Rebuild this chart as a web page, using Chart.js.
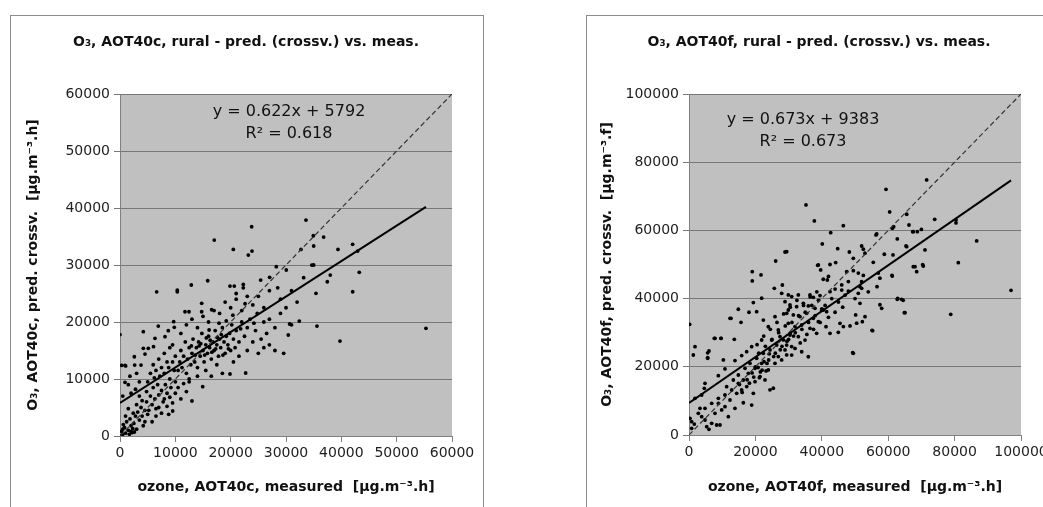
<!DOCTYPE html>
<html lang="en">
<head>
<meta charset="UTF-8">
<title>O3 AOT40 rural - pred. vs. meas.</title>
<script src="https://cdn.jsdelivr.net/npm/chart.js"></script>
<style>
  html, body { margin: 0; padding: 0; background: #fff; width: 1043px; height: 507px; overflow: hidden; }
  .frame { position: absolute; box-sizing: border-box; border: 1px solid #8c8c8c; background: #fff; }
  #frameA { left: 10px; top: 15px; width: 474px; height: 520px; }
  #frameB { left: 586px; top: 15px; width: 520px; height: 520px; }
  canvas { position: absolute; }
  #chartA { left: 10px; top: 15px; }
  #chartB { left: 586px; top: 15px; }
</style>
</head>
<body>
<div class="frame" id="frameA"></div>
<div class="frame" id="frameB"></div>
<canvas id="chartA" width="473" height="492"></canvas>
<canvas id="chartB" width="500" height="492"></canvas>

<script>
// tick labels of both axes
const ticksA = [0, 10000, 20000, 30000, 40000, 50000, 60000];
const ticksB = [0, 20000, 40000, 60000, 80000, 100000];

// regression: slope, intercept, R2
const fitA = [0.622, 5792, 0.618];
const fitB = [0.673, 9383, 0.673];

// measured (x) vs predicted (y), AOT40c
const pointsA = [
  [0,0],[300,800],[500,300],[800,1500],[1000,500],[1200,2500],[1500,1000],[1800,3000],[2000,1800],[2200,600],
  [2500,2200],[2800,3500],[3000,1200],[3200,4200],[3500,2800],[3800,5000],[4000,3500],[4200,1800],[4500,4500],[4800,6000],
  [5000,3800],[1000,3500],[1500,4800],[600,2000],[2400,4000],[3000,5500],[3500,7000],[4000,6200],[4500,2500],[500,1200],
  [1700,300],[2000,800],[2300,1300],[2600,700],
  [0,17800],[300,12400],[900,12400],[1024,12300],[2590,13900],[2650,12450],[3795,12450],[4216,15380],[4216,18300],[4518,14380],
  [5114,15380],[6060,15670],[6920,19290],[8730,18470],[9812,19060],[9700,20050],[6632,25300],[10354,25300],[10354,25600],[12884,26490],
  [15847,27240],[14763,23280],[14763,21800],[11745,21800],[12468,21800],[16570,22150],[6325,17140],[8130,17420],[904,9420],[500,7000],
  [1500,9000],[2000,7500],[2800,8200],[3500,9500],[3000,11000],[1800,10500],
  [5200,4500],[5500,7000],[5800,5500],[6000,8500],[6300,6500],[6500,4800],[6800,9000],[7000,7200],[7200,10500],[7500,8000],
  [7800,6000],[8000,11000],[8200,9000],[8500,7500],[8800,12000],[9000,10000],[9200,8500],[9500,13000],[9523,4385],[9800,11500],
  [10000,9500],[5000,9500],[5500,11000],[6000,12500],[6500,11500],[7000,13500],[7500,12000],[8000,14500],[8500,13000],[9000,15500],
  [9500,16000],[10000,14000],[5800,2500],[6500,3500],[7000,5000],[7500,4000],[8000,6500],[8500,5200],[9000,6800],[9500,5800],
  [10000,7500],[10500,8500],[11000,6500],[11500,9200],[12000,7800],[13010,6140],[14944,8650],[12500,10000],[4800,7800],[6200,10200],
  [8800,3800],
  [10500,11500],[10800,13000],[11000,15000],[11200,12000],[11500,14000],[11800,16500],[12000,11000],[12200,13500],[12500,15500],[12800,12500],
  [13000,14500],[13200,17000],[13500,13000],[13800,15500],[14000,12000],[14200,16500],[14500,14000],[14800,18000],[15000,15000],[15200,13000],
  [15500,16000],[15800,14500],[16000,17500],[16200,15500],[16500,13500],[16800,16500],[17000,15000],[17200,18500],[17500,16000],[17800,14000],
  [18000,17000],[18200,15500],[18500,19000],[18800,16500],[19000,14500],[19200,17500],[19500,16000],[19800,18000],[20000,15000],[20200,19500],
  [20500,17000],[20800,15500],[21000,18500],[21500,16500],[22000,20000],[22500,17500],[23000,19000],[11000,18000],[12000,19500],[13000,20500],
  [14000,19000],[15000,21000],[16000,20000],[17000,22000],[18000,21500],[19000,23500],[20000,22500],[21000,24000],[22000,22000],[12500,9500],
  [14000,10500],[15500,11500],[16500,10500],[17500,12500],[18500,11000],[19877,10875],[22714,11050],[20500,13000],[21500,14000],[23000,15000],
  [24000,16500],[25000,14500],[26000,15500],[27000,16000],[28000,15000],[29580,14505],[24500,18500],[25500,17000],[26500,18000],[23500,20500],
  [24800,21500],[25420,27360],[19877,26310],[20654,26310],[22280,26600],[22280,26000],[21000,25000],[23000,24500],[24000,23000],[25000,24500],
  [26000,22500],[27000,25500],[27040,27830],[28245,29700],[30050,29120],[28500,26000],[29000,24000],[30000,22500],[31000,25500],[32000,23500],
  [33190,27770],[34670,29990],[35000,30000],[35417,25030],[37460,27065],[38000,28240],[32707,32740],[35000,33330],[33610,37890],[34935,35130],
  [36800,34900],[39393,32740],[42048,33620],[42950,32450],[43240,28710],[42048,25310],[17040,34380],[23796,36710],[20478,32740],[23189,31750],
  [23856,32450],[55294,18890],[39754,16660],[35598,19290],[32400,20170],[30412,17720],[30652,19650],[28000,19000],[27000,20500],[29000,21500],
  [31000,19500],[26000,20000],
  [14300,15800],[15300,14200],[16300,16800],[17300,15300],[18300,17800],[15600,17200],[16600,14700],[17600,17300],[18600,14200],[19600,15300],
  [13600,14200],[14600,16200],[12900,15800],[16100,18600],[17900,19800],[21800,18800],[20400,21200],[19200,20200],[22600,23200],[24200,19800]
];

// measured (x) vs predicted (y), AOT40f
const pointsB = [
  [71590,74790],[59340,72060],[35240,67460],[60440,65410],[37750,62770],[46480,61390],[42680,59340],[65570,64730],[61640,61100],[74000,63260],
  [80420,63060],[80420,62180],[67380,59630],[68780,59630],[86650,56900],[81120,50540],[97000,42440],[78820,35400],[64860,35870],[49300,24140],
  [58040,37160],[57500,38200],[55120,30700],[62740,39800],[64040,39800],[61140,46840],[56630,43500],[70390,49950],[68080,49360],[68580,47900],
  [71080,54260],[65360,55430],[62740,57490],[58830,53000],[56320,58660],[61445,52800],[40150,56020],[44780,54640],[48290,53670],[52010,55430],
  [53000,53300],[52500,54500],[28920,53670],[26110,51030],[19060,47900],[19060,45170],[21690,46930],[38760,49770],[39660,48420],[42470,50000],
  [44180,50550],[41670,45460],[42000,46500],[200,32460],[1807,25900],[1300,23460],[5620,24100],[5620,22700],[7630,28360],[9640,28360],
  [12650,34220],[14860,36870],[66260,61580],[67560,59640],[70000,60300],[61240,60620],[56530,58950],[29430,53770],[49490,51820],[55510,50650],
  [65570,55230],[67560,49360],[70570,49560],[38950,49860],[40450,45670],[47500,47900],[49500,48200],[51000,47500],[52500,46800],[51500,43500],
  [52000,43000],[57020,47500],[57500,46000],[61240,46630],[42470,42030],[44000,42800],[46000,42500],[48000,42200],[50990,41560],[62860,40090],
  [64500,39500],[65060,35870],[51500,38620],[46290,37500],[50200,35200],[53010,34690],[52210,33220],[50500,32800],[48500,32000],[45480,32750],
  [46500,31800],[55320,30600],[49490,23960],[44970,30110],[40450,36660],
  [29920,41070],[30920,40590],[32930,41070],[36440,41070],[37440,40380],[39450,40880],[30420,38130],[32420,37640],[34440,38620],[35940,37860],
  [37950,37150],[39960,36670],[41460,36180],[29420,35690],[31430,35200],[33430,34710],[35440,35690],[37440,34220],[38950,33240],[29920,32750],
  [31930,31770],[33940,32260],[36440,31280],[38450,29810],[30420,29320],[32930,28830],[34940,27850],[29420,26380],[31930,25400],[33940,24420],
  [30920,23440],[35940,22950],[42470,29810],[41270,31770],
  [800,3900],[1600,3200],[800,1960],[3310,7810],[3820,5380],[4820,4400],[5330,2440],[6020,1660],[6830,3420],[8330,2930],
  [9340,2930],[7830,6360],[9840,7340],[8840,9300],[10840,8320],[11850,5380],[12350,10260],[13850,7810],[14360,12220],[16360,9460],
  [15860,13200],[17380,14200],[18870,8770],[19380,12220],[19880,15650],[21390,17120],[22890,16150],[24400,13240],[25400,13710],[23890,19070],
  [25900,21030],[27910,22010],[29420,23480],[30920,25930],[26900,22990],[28920,24940],[21890,21030],[19880,19560],[17870,18090],[16360,16130],
  [14860,15160],[12850,13200],[10840,11730],[8840,10750],[6830,9280],[4820,7810],[2810,6360],[11340,14180],[13350,16130],[14860,17600],
  [16870,19560],[18370,21030],[20380,22500],[22390,23960],[24400,24940],[26410,26400],[28420,27870],[30420,29830],
  [6020,24640],[5620,22500],[7830,28360],[9640,28360],[10340,22010],[12350,34220],[13650,28050],[15660,33050],[18070,36000],[19380,38840],
  [21890,40110],[25700,43000],[28120,43990],[27920,41550],[28920,39100],[29920,36650],[20380,36160],[22390,33710],[23890,31750],[25900,34700],
  [26900,30790],[21890,27860],[18870,25900],[17370,24440],[24900,27860],[27410,28840],[4820,15160],[4620,13700],[8840,17400],[10840,19390],
  [13850,21840],[15860,23300],[3820,11730],[1800,10750],[300,4880],
  [20000,20000],[21000,24000],[22000,19000],[23000,26000],[24000,22000],[25000,28000],[26000,24000],[27000,30000],[28000,26000],[29000,32000],
  [30000,28000],[31000,33000],[32000,30000],[33000,35000],[34000,31000],[35000,36000],[36000,33000],[37000,38000],[38000,35000],[39000,39500],
  [40000,37000],[20500,26500],[22500,29000],[24500,31000],[26500,33000],[28500,35500],[30500,37500],[32500,39500],[34500,38000],[36500,40500],
  [38500,42000],[19500,17000],[21500,18500],[23500,21000],[25500,23000],[27500,25000],[29500,27500],[31500,29000],[33500,27000],[35500,29500],
  [37500,31000],[39500,33000],[41000,38000],[42000,34500],[43000,40000],[44000,36000],[45000,39000],[46000,44000],[47000,41000],[48000,45000],
  [50000,40000],[52000,45000],[54000,42000],
  [15200,14800],[17500,16200],[19000,18200],[20800,19800],[22600,21500],[24200,23800],[16000,12500],[18200,15200],[21200,16800],[23200,18800]
];

const FONT = 'DejaVu Sans';

// headings and regression text, drawn on the canvas
const textLayer = {
  id: 'textLayer',
  afterDraw(chart, args, opts) {
    const ctx = chart.ctx;
    const area = chart.chartArea;
    ctx.save();
    ctx.fillStyle = '#111';
    ctx.textBaseline = 'middle';
    ctx.textAlign = 'center';
    ctx.font = 'bold 14px "' + FONT + '"';
    ctx.fillText(opts.heading, opts.headingX, opts.headingY);
    ctx.font = '16px "' + FONT + '"';
    opts.equation.forEach((line, i) => {
      ctx.fillText(line, area.left + opts.eqX, area.top + opts.eqY + i * 22);
    });
    ctx.restore();
  }
};

// grey plot background
const plotBack = {
  id: 'plotBack',
  beforeDraw(chart) {
    const {ctx, chartArea: a} = chart;
    ctx.save();
    ctx.fillStyle = '#c0c0c0';
    ctx.fillRect(a.left, a.top, a.right - a.left, a.bottom - a.top);
    ctx.restore();
  }
};

function makeChart(id, points, fit, ticks, cfg) {
  const maxX = Math.max(...points.map(p => p[0]));
  const top = ticks[ticks.length - 1];
  const tickFont = {family: FONT, size: 14};
  const titleFont = {family: FONT, size: 14, weight: 'bold'};
  return new Chart(document.getElementById(id), {
    type: 'scatter',
    data: {
      datasets: [
        {
          data: [{x: 0, y: fit[1]}, {x: maxX, y: fit[0] * maxX + fit[1]}],
          showLine: true, borderColor: '#000', borderWidth: 2, pointRadius: 0
        },
        {
          data: [{x: 0, y: 0}, {x: top, y: top}],
          showLine: true, borderColor: '#333', borderWidth: 1.2, borderDash: [5, 3], pointRadius: 0
        },
        {
          data: points.map(p => ({x: p[0], y: p[1]})),
          pointRadius: 1.9, pointBorderWidth: 0, backgroundColor: '#000', borderColor: '#000'
        }
      ]
    },
    options: {
      responsive: false,
      animation: false,
      layout: {padding: {left: 0, right: cfg.padRight, top: 79, bottom: 0}},
      plugins: {
        legend: {display: false},
        tooltip: {enabled: false},
        textLayer: {
          heading: cfg.heading, headingX: cfg.headingX, headingY: 27,
          equation: ['y = ' + fit[0] + 'x + ' + fit[1], 'R\u00b2 = ' + fit[2]],
          eqX: cfg.eqX, eqY: cfg.eqY
        }
      },
      scales: {
        x: {
          type: 'linear', min: 0, max: top,
          afterBuildTicks: s => { s.ticks = ticks.map(v => ({value: v})); },
          afterFit: s => { s.height = cfg.xHeight; },
          ticks: {font: tickFont, color: '#222', padding: 3, maxRotation: 0, autoSkip: false, callback: v => String(v)},
          grid: {drawOnChartArea: false, drawTicks: true, tickLength: 6, color: '#808080'},
          border: {color: '#808080'},
          title: {display: true, text: cfg.xTitle, font: titleFont, color: '#111', padding: {top: 0, bottom: 11.6}}
        },
        y: {
          type: 'linear', min: 0, max: top,
          afterBuildTicks: s => { s.ticks = ticks.map(v => ({value: v})); },
          afterFit: s => { s.width = cfg.yWidth; },
          ticks: {font: tickFont, color: '#222', padding: 4, autoSkip: false, callback: v => String(v)},
          grid: {drawTicks: true, tickLength: 6, color: '#777'},
          border: {color: '#808080'},
          title: {display: true, text: cfg.yTitle, font: titleFont, color: '#111', padding: {top: cfg.yTitlePad, bottom: 0}}
        }
      }
    },
    plugins: [plotBack, textLayer]
  });
}

makeChart('chartA', pointsA, fitA, ticksA, {
  heading: 'O\u2083, AOT40c, rural - pred. (crossv.) vs. meas.',
  headingX: 236,
  xTitle: 'ozone, AOT40c, measured  [\u00b5g.m\u207b\u00b3.h]',
  yTitle: 'O\u2083, AOT40c, pred. crossv.  [\u00b5g.m\u207b\u00b3.h]',
  padRight: 31, xHeight: 71, yWidth: 110, yTitlePad: 14.6,
  eqX: 169, eqY: 18
});

makeChart('chartB', pointsB, fitB, ticksB, {
  heading: 'O\u2083, AOT40f, rural - pred. (crossv.) vs. meas.',
  headingX: 233,
  xTitle: 'ozone, AOT40f, measured  [\u00b5g.m\u207b\u00b3.h]',
  yTitle: 'O\u2083, AOT40f, pred. crossv.  [\u00b5g.m\u207b\u00b3.f]',
  padRight: 65, xHeight: 72, yWidth: 103, yTitlePad: 12.6,
  eqX: 114, eqY: 26
});
</script>
</body>
</html>
